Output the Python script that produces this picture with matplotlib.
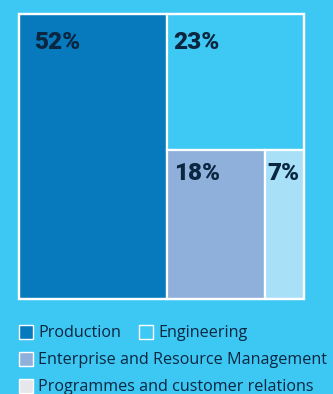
import matplotlib
matplotlib.use("Agg")
import matplotlib.pyplot as plt
from matplotlib.patches import Rectangle

# data
categories = ["Production", "Engineering",
              "Enterprise and Resource Management",
              "Programmes and customer relations"]
shares = [52, 23, 18, 7]
labels = ["52%", "23%", "18%", "7%"]

# styles
bg = "#3dc8f4"
tile_colors = ["#0779bd", "#3ec8f4", "#8fb0da", "#a8e0f8"]
legend_colors = ["#0779bd", "#3ec8f4", "#8fb0da", "#e6e7ea"]
text_dark = "#0b2640"

W, H = 333, 394
fig = plt.figure(figsize=(W / 100, H / 100), dpi=100, facecolor=bg)
ax = fig.add_axes([0, 0, 1, 1])
ax.set_xlim(0, W)
ax.set_ylim(H, 0)
ax.axis("off")

# treemap area (pixels)
x0, y0, tw, th = 18.5, 13.5, 285, 285
total = sum(shares)

# slice: first tile takes full height, then top/bottom, then left/right
rects = []
w0 = tw * shares[0] / total
rects.append((x0, y0, w0, th))
rx, rw = x0 + w0, tw - w0
rest = sum(shares[1:])
h1 = th * shares[1] / rest
rects.append((rx, y0, rw, h1))
ry, rh = y0 + h1, th - h1
bottom = sum(shares[2:])
w2 = rw * shares[2] / bottom
rects.append((rx, ry, w2, rh))
rects.append((rx + w2, ry, rw - w2, rh))

label_pad = [(16, 19), (7, 19), (7, 14), (2, 14)]
for (x, y, w, h), c, lab, (px, py) in zip(rects, tile_colors, labels, label_pad):
    ax.add_patch(Rectangle((x, y), w, h, facecolor=c, edgecolor="white", lw=1.6))
    ax.text(x + px, y + py - 2, lab, ha="left", va="top", color=text_dark,
            fontsize=17.5, fontweight="black", family="Roboto")
ax.add_patch(Rectangle((x0, y0), tw, th, facecolor="none", edgecolor="white", lw=1.6))

# legend
legend_pos = [(18, 332), (138, 332), (18, 359), (18, 386)]
for (lx, ly), c, name in zip(legend_pos, legend_colors, categories):
    ax.add_patch(Rectangle((lx + 0.5, ly - 7), 14, 14, facecolor=c,
                           edgecolor="white", lw=1.0))
    ax.text(lx + 20, ly + 1, name, ha="left", va="center", color=text_dark,
            fontsize=11.6, family="Open Sans")

fig.savefig("out.png", dpi=100, facecolor=bg)
